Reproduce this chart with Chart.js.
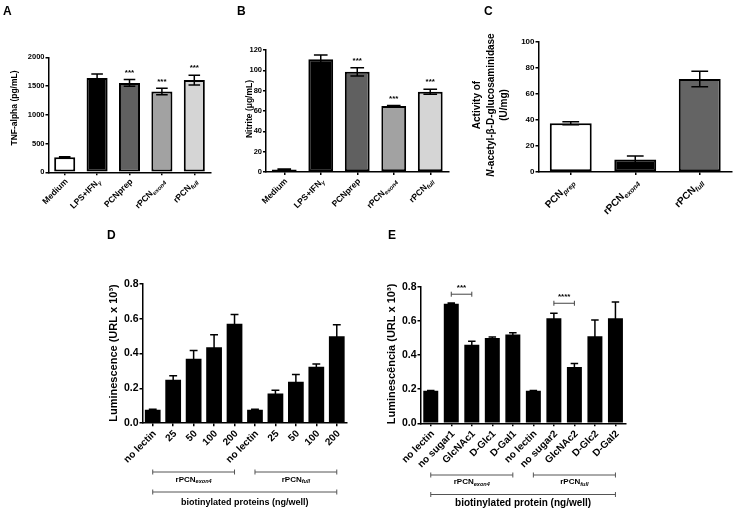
<!DOCTYPE html>
<html>
<head>
<meta charset="utf-8">
<script src="https://cdn.jsdelivr.net/npm/chart.js@4.4.0/dist/chart.umd.min.js"></script>
<style>
  body { margin: 0; background: #fff; width: 736px; height: 512px; position: relative; overflow: hidden; }
  canvas { position: absolute; }
</style>
</head>
<body>
<canvas id="cA"></canvas>
<canvas id="cB"></canvas>
<canvas id="cC"></canvas>
<canvas id="cD"></canvas>
<canvas id="cE"></canvas>
<script>
const FONT = '"Liberation Sans", Arial, sans-serif';

// '_' starts a subscript, '~' toggles italic
// A - TNF-alpha
const catsA = ['Medium', 'LPS+IFN_γ', 'PCNprep', 'rPCN_exon4', 'rPCN_full'];
const tnf = [260, 1640, 1555, 1405, 1605];
const tnfErr = [10, 70, 60, 55, 85];
const tnfStars = ['', '', '***', '***', '***'];
const ticksA = [0, 500, 1000, 1500, 2000];

// B - nitrite
const catsB = ['Medium', 'LPS+IFN_γ', 'PCNprep', 'rPCN_exon4', 'rPCN_full'];
const nitrite = [2.5, 111, 98.5, 65, 79];
const nitriteErr = [0.5, 4, 4, 0.5, 2.5];
const nitriteStars = ['', '', '***', '***', '***'];
const ticksB = [0, 20, 40, 60, 80, 100, 120];

// C - NAGase activity
const catsC = ['PCN_prep', 'rPCN_exon4', 'rPCN_full'];
const activity = [37.5, 9.7, 71.5];
const activityErr = [1.2, 2.6, 6];
const ticksC = [0, 20, 40, 60, 80, 100];

// D - luminescence by dose
const catsD = ['no lectin', '25', '50', '100', '200', 'no lectin', '25', '50', '100', '200'];
const lumD = [0.077, 0.249, 0.37, 0.437, 0.572, 0.077, 0.171, 0.238, 0.324, 0.5];
const lumDErr = [0.003, 0.023, 0.048, 0.071, 0.052, 0.003, 0.019, 0.042, 0.016, 0.066];
const groupsD = [['rPCN_exon4', 0, 4], ['rPCN_full', 5, 9]];
const outerD = ['biotinylated proteins (ng/well)', 0, 9];

// E - luminescence with sugars
const catsE = ['no lectin', 'no sugar1', 'GlcNAc1', 'D-Glc1', 'D-Gal1', 'no lectin', 'no sugar2', 'GlcNAc2', 'D-Glc2', 'D-Gal2'];
const lumE = [0.19, 0.70, 0.46, 0.50, 0.52, 0.19, 0.615, 0.33, 0.51, 0.615];
const lumEErr = [0.002, 0.004, 0.02, 0.005, 0.01, 0.002, 0.03, 0.02, 0.095, 0.095];
const sigE = [['***', 1, 2, 0.756], ['****', 6, 7, 0.703]];
const groupsE = [['rPCN_exon4', 0, 4], ['rPCN_full', 5, 9]];
const outerE = ['biotinylated protein (ng/well)', 0, 9];
const ticksDE = [0, 0.2, 0.4, 0.6, 0.8];

const greys = ['#ffffff', '#000000', '#606060', '#a2a2a2', '#d5d5d5'];
const greysC = ['#ffffff', '#000000', '#646464'];

function parseRich(s) {
  const out = [];
  let italic = false, sub = false, buf = '';
  const push = () => { if (buf) out.push({ t: buf, italic: italic, sub: sub }); buf = ''; };
  for (const ch of s) {
    if (ch === '~') { push(); italic = !italic; }
    else if (ch === '_') { push(); sub = true; italic = true; }
    else buf += ch;
  }
  push();
  return out;
}

function fontOf(p, size) {
  const sz = p.sub ? size * 0.7 : size;
  return (p.italic ? 'italic ' : '') + 'bold ' + sz + 'px ' + FONT;
}

function drawRich(ctx, s, x, y, size, align, angle, color) {
  const parts = parseRich(s);
  ctx.save();
  ctx.translate(x, y);
  ctx.rotate(angle || 0);
  ctx.textBaseline = 'middle';
  ctx.textAlign = 'left';
  ctx.fillStyle = color || '#000';
  const widths = parts.map(p => { ctx.font = fontOf(p, size); return ctx.measureText(p.t).width; });
  const total = widths.reduce((a, b) => a + b, 0);
  let cx = align === 'right' ? -total : (align === 'center' ? -total / 2 : 0);
  parts.forEach((p, k) => {
    ctx.font = fontOf(p, size);
    ctx.fillText(p.t, cx, p.sub ? size * 0.3 : 0);
    cx += widths[k];
  });
  ctx.restore();
}

function bracket(ctx, x1, x2, y, tick, color) {
  ctx.save();
  ctx.strokeStyle = color;
  ctx.lineWidth = 1;
  ctx.beginPath();
  ctx.moveTo(x1, y); ctx.lineTo(x2, y);
  ctx.moveTo(x1, y - tick); ctx.lineTo(x1, y + tick);
  ctx.moveTo(x2, y - tick); ctx.lineTo(x2, y + tick);
  ctx.stroke();
  ctx.restore();
}

function makePlugin(geo, o) {
  return {
    id: 'panel',
    afterDatasetsDraw(chart) {
      const ctx = chart.ctx;
      const meta = chart.getDatasetMeta(0);
      const ys = chart.scales.y;
      const vals = chart.data.datasets[0].data;
      ctx.save();
      ctx.strokeStyle = '#000';
      ctx.lineWidth = 1.5;
      meta.data.forEach((bar, i) => {
        const e = o.errs[i];
        if (!e) return;
        const top = ys.getPixelForValue(vals[i] + e);
        const bot = ys.getPixelForValue(vals[i] - e);
        const half = bar.width * o.cap / 2;
        ctx.beginPath();
        ctx.moveTo(bar.x, top); ctx.lineTo(bar.x, bot);
        ctx.moveTo(bar.x - half, top); ctx.lineTo(bar.x + half, top);
        ctx.moveTo(bar.x - half, bot); ctx.lineTo(bar.x + half, bot);
        ctx.stroke();
        if (o.stars && o.stars[i]) {
          ctx.fillStyle = '#000';
          ctx.font = 'bold ' + o.starSize + 'px ' + FONT;
          ctx.textAlign = 'center';
          ctx.textBaseline = 'middle';
          ctx.fillText(o.stars[i], bar.x, top - 7);
        }
      });
      ctx.restore();
    },
    afterDraw(chart) {
      const ctx = chart.ctx;
      const xs = chart.scales.x;
      const ys = chart.scales.y;
      const ox = geo.x, oy = geo.y;
      const bottom = chart.chartArea.bottom;
      // panel letter
      ctx.save();
      ctx.fillStyle = '#000';
      ctx.font = 'bold 12px ' + FONT;
      ctx.textBaseline = 'alphabetic';
      ctx.fillText(o.letter[0], o.letter[1] - ox, o.letter[2] - oy);
      ctx.restore();
      // y title
      o.yTitle.forEach((line, k) => {
        drawRich(ctx, line, o.yTitleX[k] - ox, o.yTitleY - oy, o.yTitleSize, 'center', -Math.PI / 2);
      });
      // rotated category labels
      chart.data.labels.forEach((lab, i) => {
        const x = xs.getPixelForValue(i);
        drawRich(ctx, lab, x + o.labDx, bottom + o.labDy, o.labelSize, 'right', -Math.PI / 4);
      });
      // significance brackets above bars
      (o.sig || []).forEach(s => {
        const x1 = xs.getPixelForValue(s[1]), x2 = xs.getPixelForValue(s[2]);
        const y = ys.getPixelForValue(s[3]);
        bracket(ctx, x1, x2, y, 2.5, '#444');
        ctx.save();
        ctx.fillStyle = '#000';
        ctx.font = 'bold 8px ' + FONT;
        ctx.textAlign = 'center';
        ctx.textBaseline = 'middle';
        ctx.fillText(s[0], (x1 + x2) / 2, y - 6);
        ctx.restore();
      });
      // group brackets under the axis
      (o.groups || []).forEach(g => {
        const x1 = xs.getPixelForValue(g[1]), x2 = xs.getPixelForValue(g[2]);
        bracket(ctx, x1, x2, o.groupY - oy, 2.5, '#555');
        drawRich(ctx, g[0], (x1 + x2) / 2, o.groupTextY - oy, o.groupSize, 'center', 0);
      });
      if (o.outer) {
        const x1 = xs.getPixelForValue(o.outer[1]), x2 = xs.getPixelForValue(o.outer[2]);
        bracket(ctx, x1, x2, o.outerY - oy, 2.5, '#555');
        drawRich(ctx, o.outer[0], (x1 + x2) / 2, o.outerTextY - oy, o.outerSize, 'center', 0);
      }
    }
  };
}

function build(id, geo, o) {
  const cv = document.getElementById(id);
  cv.width = geo.w;
  cv.height = geo.h;
  cv.style.left = geo.x + 'px';
  cv.style.top = geo.y + 'px';
  const axisGrid = { display: true, drawOnChartArea: false, drawTicks: true, tickLength: 3, color: '#000', lineWidth: 1.5 };
  return new Chart(cv, {
    type: 'bar',
    data: {
      labels: o.labels,
      datasets: [{
        data: o.values,
        backgroundColor: o.fills,
        borderColor: '#000',
        borderWidth: o.border,
        borderSkipped: false,
        barPercentage: o.barPct,
        categoryPercentage: 1
      }]
    },
    options: {
      responsive: false,
      animation: false,
      devicePixelRatio: 1,
      layout: { padding: { left: 0, top: geo.t - geo.y, right: geo.x + geo.w - geo.r, bottom: 0 } },
      plugins: { legend: { display: false }, tooltip: { enabled: false } },
      scales: {
        x: {
          grid: Object.assign({}, axisGrid, { offset: false }),
          border: { display: true, color: '#000', width: 1.5 },
          ticks: { display: false },
          afterFit: s => { s.height = geo.y + geo.h - geo.b; }
        },
        y: {
          min: o.ticks[0],
          max: o.ticks[o.ticks.length - 1],
          grid: axisGrid,
          border: { display: true, color: '#000', width: 1.5 },
          ticks: {
            stepSize: o.ticks[1] - o.ticks[0],
            color: '#000',
            padding: 1,
            font: { family: FONT, size: o.tickSize, weight: 'bold' },
            callback: v => (o.decimals ? v.toFixed(o.decimals) : v)
          },
          afterFit: s => { s.width = geo.l - geo.x; }
        }
      }
    },
    plugins: [makePlugin(geo, o)]
  });
}

build('cA', { x: 0, y: 0, w: 236, h: 236, l: 48.5, r: 210.5, t: 57.3, b: 172.3 }, {
  labels: catsA, values: tnf, errs: tnfErr, stars: tnfStars, ticks: ticksA, fills: greys,
  border: 2, barPct: 0.65, cap: 0.55, tickSize: 7.5, labelSize: 8.5, starSize: 8, labDx: 2, labDy: 8,
  letter: ['A', 3, 15], yTitle: ['TNF-alpha (pg/mL)'], yTitleX: [15], yTitleY: 108, yTitleSize: 8.5
});

build('cB', { x: 236, y: 0, w: 236, h: 236, l: 266, r: 448.5, t: 50, b: 172 }, {
  labels: catsB, values: nitrite, errs: nitriteErr, stars: nitriteStars, ticks: ticksB, fills: greys,
  border: 2, barPct: 0.68, cap: 0.55, tickSize: 7.5, labelSize: 8.5, starSize: 8, labDx: 2, labDy: 8,
  letter: ['B', 237, 15], yTitle: ['Nitrite (μg/mL)'], yTitleX: [250], yTitleY: 109, yTitleSize: 8.5
});

build('cC', { x: 472, y: 0, w: 264, h: 236, l: 538.5, r: 732, t: 42, b: 172 }, {
  labels: catsC, values: activity, errs: activityErr, ticks: ticksC, fills: greysC,
  border: 2, barPct: 0.65, cap: 0.4, tickSize: 8, labelSize: 10, starSize: 8, labDx: 2, labDy: 9,
  letter: ['C', 484, 15],
  yTitle: ['Activity of', '~N~-acetyl-β-D-glucosaminidase', '(U/mg)'], yTitleX: [477, 491, 504], yTitleY: 105, yTitleSize: 10
});

build('cD', { x: 95, y: 220, w: 260, h: 292, l: 142.5, r: 347, t: 284, b: 423.2 }, {
  labels: catsD, values: lumD, errs: lumDErr, ticks: ticksDE, decimals: 1, fills: '#000',
  border: 0, barPct: 0.77, cap: 0.5, tickSize: 10.5, labelSize: 10, labDx: 2, labDy: 9,
  letter: ['D', 107, 239], yTitle: ['Luminescence (URL x 10³)'], yTitleX: [114], yTitleY: 353, yTitleSize: 11,
  groups: groupsD, groupY: 472, groupTextY: 479.5, groupSize: 8,
  outer: outerD, outerY: 492, outerTextY: 503, outerSize: 9
});

build('cE', { x: 375, y: 220, w: 270, h: 292, l: 420.5, r: 625.7, t: 286.7, b: 423.3 }, {
  labels: catsE, values: lumE, errs: lumEErr, ticks: ticksDE, decimals: 1, fills: '#000',
  border: 0, barPct: 0.73, cap: 0.5, tickSize: 10.5, labelSize: 10, labDx: 2, labDy: 9,
  letter: ['E', 388, 239], yTitle: ['Luminescência (URL x 10³)'], yTitleX: [392], yTitleY: 354, yTitleSize: 11,
  sig: sigE,
  groups: groupsE, groupY: 475, groupTextY: 482, groupSize: 8,
  outer: outerE, outerY: 494.5, outerTextY: 503.5, outerSize: 10
});
</script>
</body>
</html>
